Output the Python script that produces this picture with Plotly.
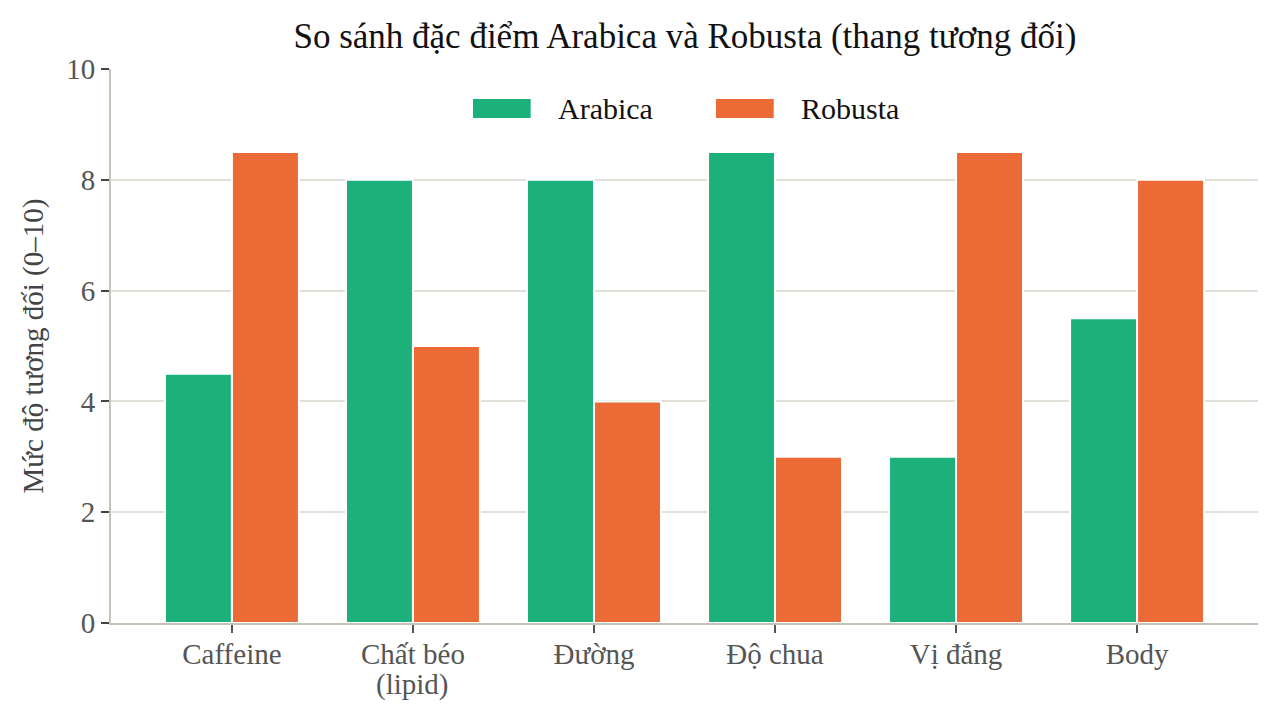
import plotly.graph_objects as go

categories = ["Caffeine", "Chất béo<br>(lipid)", "Đường", "Độ chua", "Vị đắng", "Body"]
arabica = [4.5, 8, 8, 8.5, 3, 5.5]
robusta = [8.5, 5, 4, 3, 8.5, 8]
series_names = ["Arabica", "Robusta"]
series_colors = ["#1cb17b", "#eb6a36"]

FONT = "Liberation Serif"

fig = go.Figure()
for name, vals, col in zip(series_names, [arabica, robusta], series_colors):
    fig.add_trace(go.Bar(
        name=name, x=categories, y=vals,
        marker=dict(color=col, line=dict(color="white", width=2)),
        showlegend=False,
    ))

# legend drawn by hand: wide flat swatches like the reference
sw_x0 = [0.3156, 0.5275]
for i, (name, col) in enumerate(zip(series_names, series_colors)):
    x0 = sw_x0[i]
    fig.add_shape(type="rect", xref="paper", yref="paper",
                  x0=x0, x1=x0 + 0.0503, y0=0.9116, y1=0.9458,
                  fillcolor=col, line=dict(color=col, width=0))
    fig.add_annotation(xref="paper", yref="paper", x=x0 + 0.0725, y=0.9287,
                       text=name, showarrow=False, xanchor="left", yanchor="middle",
                       font=dict(family=FONT, size=30, color="#111111"))

# tick labels: first line as tick text, extra lines as tighter annotations
first_lines = [c.split("<br>")[0] for c in categories]
for c in categories:
    parts = c.split("<br>")
    for k, extra in enumerate(parts[1:]):
        fig.add_annotation(xref="x", yref="paper", x=c, y=-0.1119 - k * 0.058,
                           text=extra, showarrow=False, xanchor="center", yanchor="middle",
                           font=dict(family=FONT, size=29, color="#555555"))

fig.update_layout(
    width=1278, height=720,
    margin=dict(l=103, r=28, t=61, b=105),
    paper_bgcolor="white", plot_bgcolor="white",
    font=dict(family=FONT),
    barmode="group", bargap=0.26, bargroupgap=0,
    title=dict(text="So sánh đặc điểm Arabica và Robusta (thang tương đối)",
               x=0.5297, xanchor="center", y=0.961, yanchor="middle",
               font=dict(family=FONT, size=35, color="#111111")),
    xaxis=dict(range=[-0.668, 5.668], showline=True, linecolor="#c4c4b6", linewidth=2,
               ticks="outside", ticklen=8, tickwidth=2, tickcolor="#555555",
               ticklabelstandoff=-4,
               tickmode="array", tickvals=categories, ticktext=first_lines,
               tickfont=dict(family=FONT, size=29, color="#555555"),
               showgrid=False, automargin=False),
    yaxis=dict(range=[0, 10], dtick=2, showline=True, linecolor="#c4c4b6", linewidth=2,
               ticks="outside", ticklen=8, tickwidth=2, tickcolor="#444444",
               tickfont=dict(family=FONT, size=29, color="#555555"),
               gridcolor="#e0e0d8", gridwidth=1.5, zeroline=False,
               title=dict(text="Mức độ tương đối (0–10)", standoff=14,
                          font=dict(family=FONT, size=29, color="#444444")),
               automargin=False),
)

fig.write_html("out.html")
